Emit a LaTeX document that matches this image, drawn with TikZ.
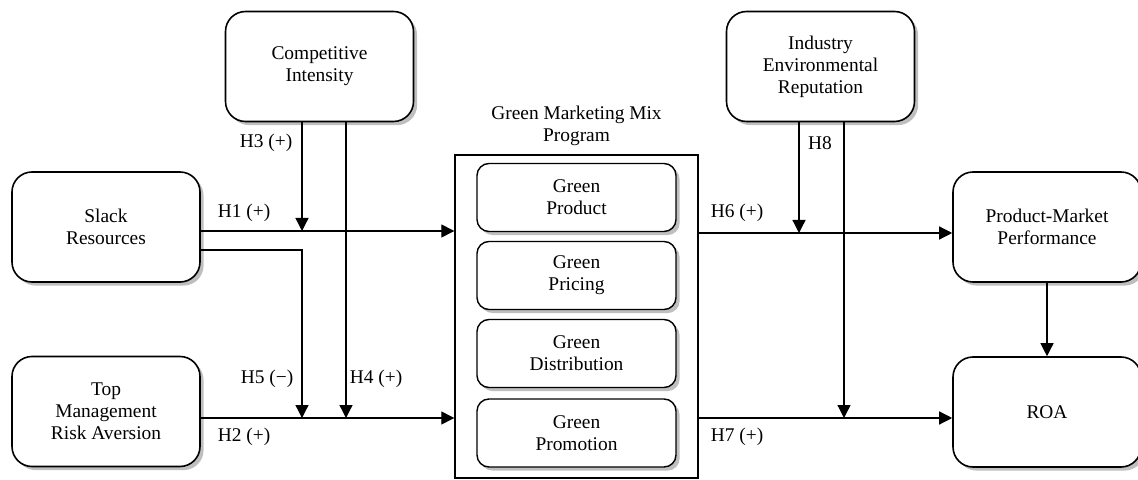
\documentclass[tikz,border=0pt]{standalone}
\usepackage{fontspec}
\setmainfont{Liberation Serif}
\usetikzlibrary{shadows,arrows.meta,positioning}

\begin{document}
\begin{tikzpicture}[x=0.5pt,y=-0.5pt,
    font=\fontsize{9.7}{11}\selectfont,
    var/.style = {draw, line width=0.8pt, rounded corners=10pt, align=center,
                  fill=white, minimum width=94pt, minimum height=55pt,
                  drop shadow={shadow xshift=1.8pt, shadow yshift=-1.8pt, fill=black!50}},
    mix/.style = {var, rounded corners=6pt, minimum width=99.5pt, minimum height=34pt,
                  line width=0.7pt},
    arr/.style = {line width=0.65pt, -{Triangle[length=6.5pt,width=6.5pt]}},
    lab/.style = {inner sep=0pt}]
    \useasboundingbox (0,0) rectangle (1138,480);
    \node[var] (slack) at (106,227) {Slack\\Resources};
    \node[var] (topm) at (106,411.5) {Top\\Management\\Risk Aversion};
    \node[var] (comp) at (319.5,66.5) {Competitive\\Intensity};
    \node[var] (ind) at (820.5,66.5) {Industry\\Environmental\\Reputation};
    \node[var] (pmp) at (1047,227) {Product-Market\\Performance};
    \node[var] (roa) at (1047,412) {ROA};
    \node[draw, line width=0.7pt, minimum width=121.5pt, minimum height=161.5pt] (mixbox) at (576.5,316.5) {};
    \node[align=center, above=4pt of mixbox.north, inner sep=0pt] (title) {Green Marketing Mix\\Program};
    \node[mix] (prod) at (576.5,197.5) {Green\\Product};
    \node[mix] (pric) at (576.5,275.5) {Green\\Pricing};
    \node[mix] (dist) at (576.5,353.5) {Green\\Distribution};
    \node[mix] (prom) at (576.5,433) {Green\\Promotion};
    % junctions
    \coordinate (j3) at (302,231);
    \coordinate (k5) at (302,250);
    \coordinate (j5) at (302,418);
    \coordinate (j4) at (346,418);
    \coordinate (j8) at (799,233);
    \coordinate (j9) at (844,418);
    \draw[arr] (slack.east |- j3) -- (mixbox.west |- j3);
    \draw[arr] (comp.south -| j3) -- (j3);
    \draw[arr] (comp.south -| j4) -- (j4);
    \draw[arr] (slack.east |- k5) -- (k5) -- (j5);
    \draw[arr] (topm.east |- j5) -- (mixbox.west |- j5);
    \draw[arr] (mixbox.east |- j8) -- (pmp.west |- j8);
    \draw[arr] (ind.south -| j8) -- (j8);
    \draw[arr] (ind.south -| j9) -- (j9);
    \draw[arr] (mixbox.east |- j9) -- (roa.west |- j9);
    \draw[arr] (pmp) -- (roa);
    % labels
    \node[lab] (h3) at (266,143) {H3 (+)};
    \node[lab] (h1) at (244,213) {H1 (+)};
    \node[lab] (h5) at (267,379) {H5 (−)};
    \node[lab] (h4) at (376,379) {H4 (+)};
    \node[lab] (h2) at (244,437) {H2 (+)};
    \node[lab] (h8) at (820,143) {H8};
    \node[lab] (h6) at (737,213) {H6 (+)};
    \node[lab] (h7) at (737,437) {H7 (+)};
  \end{tikzpicture}
\end{document}
